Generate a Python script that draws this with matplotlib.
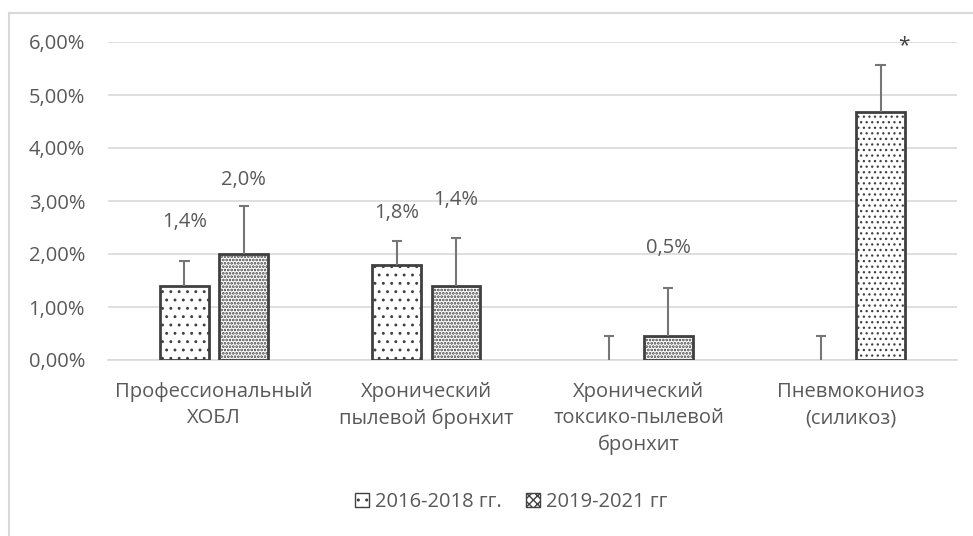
import matplotlib
matplotlib.use("Agg")
import matplotlib.pyplot as plt
import numpy as np
from matplotlib.ticker import FuncFormatter
from matplotlib.patches import Patch
from matplotlib.lines import Line2D

categories = ["Профессиональный\nХОБЛ", "Хронический\nпылевой бронхит",
              "Хронический\nтоксико-пылевой\nбронхит", "Пневмокониоз\n(силикоз)"]
series_names = ["2016-2018 гг.", "2019-2021 гг"]
s1 = [1.40, 1.80, 0.00, 0.00]
s2 = [2.00, 1.40, 0.45, 4.67]
s1_err = [0.47, 0.45, 0.46, 0.46]
s2_err = [0.90, 0.90, 0.91, 0.90]
labels_s1 = ["1,4%", "1,8%", "", ""]
labels_s2 = ["2,0%", "1,4%", "0,5%", ""]
label_y_s1 = [2.60, 2.77, None, None]
label_y_s2 = [3.40, 3.02, 2.12, None]
yticks = [0, 1, 2, 3, 4, 5, 6]

FONT = "Open Sans"
FS = 14.5
TXT = "#595959"
GRID = "#d9d9d9"
EDGE = "#404040"
ERR = "#767676"

fig = plt.figure(figsize=(9.73, 5.36), dpi=100)
W, H = 973, 536
ax = fig.add_axes([108 / W, 1 - 360 / H, (957 - 108) / W, (360 - 42) / H])

x = np.arange(len(categories))
bw = 0.23
off = 0.14
cap = 0.024

hatches1 = ["..", "..", "..", ".."]
hatches2 = [".....", ".....", ".....", "..."]
hlw2 = [1.3, 1.3, 1.3, 0.9]
for xi, v, h in zip(x, s1, hatches1):
    if v > 0:
        with plt.rc_context({"hatch.linewidth": 0.9}):
            ax.bar(xi - off, v, bw, color="white", edgecolor=EDGE, linewidth=2,
                   hatch=h, zorder=3)
for xi, v, h, lw in zip(x, s2, hatches2, hlw2):
    if v > 0:
        with plt.rc_context({"hatch.linewidth": lw}):
            ax.bar(xi + off, v, bw, color="white", edgecolor=EDGE, linewidth=2,
                   hatch=h, zorder=3)

# upper-only error bars
for vals, errs, sgn in ((s1, s1_err, -1), (s2, s2_err, 1)):
    xs = x + sgn * off
    tops = np.array(vals) + np.array(errs)
    ax.vlines(xs, vals, tops, color=ERR, linewidth=1.5, zorder=4)
    ax.hlines(tops, xs - cap, xs + cap, color=ERR, linewidth=1.5, zorder=4)

for i in range(len(categories)):
    if labels_s1[i]:
        ax.text(x[i] - off, label_y_s1[i], labels_s1[i], ha="center", va="center",
                fontsize=FS, color=TXT, family=FONT)
    if labels_s2[i]:
        ax.text(x[i] + off, label_y_s2[i], labels_s2[i], ha="center", va="center",
                fontsize=FS, color=TXT, family=FONT)

ax.text(x[3] + off + 0.11, 5.93, "*", ha="center", va="center", fontsize=15,
        color="#404040", family=FONT)

ax.set_xlim(-0.5, 3.5)
ax.set_ylim(0, 6)
ax.set_yticks(yticks)
ax.yaxis.set_major_formatter(FuncFormatter(lambda v, p: f"{v:.2f}%".replace(".", ",")))
ax.grid(axis="y", color=GRID, linewidth=1.2, zorder=0)
for s in ["top", "right", "left"]:
    ax.spines[s].set_visible(False)
ax.spines["bottom"].set_color(GRID)
ax.spines["bottom"].set_linewidth(1.2)
ax.tick_params(axis="both", length=0, labelsize=FS, labelcolor=TXT)
ax.tick_params(axis="y", pad=16.5)
ax.tick_params(axis="x", pad=16)
ax.set_xticks(x)
ax.set_xticklabels(categories, linespacing=1.4)
for lbl in ax.get_xticklabels() + ax.get_yticklabels():
    lbl.set_family(FONT)

handles = [Patch(facecolor="white", edgecolor=EDGE, hatch="..", linewidth=1),
           Patch(facecolor="white", edgecolor=EDGE, hatch="xxxx", linewidth=1)]
fig.legend(handles, series_names, loc="center", bbox_to_anchor=(511 / W, 1 - 502 / H),
           ncol=2, frameon=False, prop={"family": FONT, "size": FS},
           labelcolor=TXT, handlelength=0.7, handleheight=0.7, handletextpad=0.3,
           columnspacing=1.2)

fig.add_artist(Line2D([9 / W, 9 / W], [0, 1 - 13 / H], transform=fig.transFigure,
                      color=GRID, linewidth=1.5))
fig.add_artist(Line2D([9 / W, 1], [1 - 13 / H, 1 - 13 / H], transform=fig.transFigure,
                      color=GRID, linewidth=1.5))

fig.savefig("out.png", dpi=100)
